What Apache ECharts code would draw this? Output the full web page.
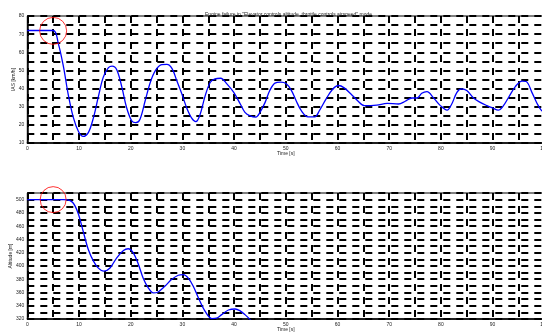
<!DOCTYPE html>
<html>
<head>
<meta charset="utf-8">
<script src="https://cdn.jsdelivr.net/npm/echarts@6/dist/echarts.min.js"></script>
<style>html,body{margin:0;padding:0;background:#fff;}#c{width:542px;height:333px;}</style>
</head>
<body>
<div id="c"></div>
<script>
var titleText = 'Engine failure in "Elevator controls altitude, throttle controls airspeed" mode';
var xName = 'Time [s]';
var iasName = 'IAS [km/h]';
var altName = 'Altitude [m]';

var iasTime = [0, 5, 6, 7, 7.9, 8.9, 9.9, 10.8, 11.8, 12.8, 13.7, 14.7, 15.7, 16.4, 17.3, 18.3, 19.2, 20.2, 21, 21.8, 22.8, 23.8, 24.8, 26, 27, 28, 28.9, 29.9, 30.8, 31.8, 32.6, 33.4, 34.4, 35.4, 36.3, 37.4, 38.6, 39.9, 41.2, 42.1, 43.1, 44.2, 45, 46, 46.9, 47.9, 49, 50.1, 51.1, 52, 53, 54.3, 55.6, 56.5, 57.8, 59.1, 60.2, 61.3, 62.6, 63.9, 65.2, 67.6, 69.6, 71.8, 73.1, 74.4, 75.4, 76.3, 77.3, 78.6, 79.9, 81.2, 82.1, 83.1, 84, 85, 86.3, 87.6, 88.9, 90, 91.1, 92.1, 93.1, 94.4, 95.7, 96.5, 97.6, 98.6, 99.4, 100];
var iasValue = [72, 72, 64.8, 51.9, 37, 24.1, 16.3, 13.6, 15.7, 24, 35, 46.3, 51.5, 52.4, 50.4, 40.7, 29.6, 22.2, 21.2, 23.1, 33.3, 43.5, 50, 53.2, 53.3, 51, 44.4, 37, 29.6, 23.7, 21.8, 25.5, 36, 43.5, 45.4, 45.7, 42.6, 38, 31.5, 26.9, 25, 24.3, 26.9, 32.4, 38.9, 43, 43.5, 42.6, 38.9, 33.3, 27.8, 24.4, 24.4, 27.8, 34.3, 39.8, 41.7, 40.4, 37, 33.3, 30.6, 30.9, 31.8, 31.5, 33, 34.8, 34.8, 37.4, 38.3, 34.8, 30.6, 28.1, 31.5, 37.9, 39.8, 38.9, 34.8, 32.4, 30.6, 29.3, 28.1, 30.6, 35.2, 41.1, 44.1, 43.9, 37.9, 31.8, 28.1, 27];

var altTime = [0, 7, 7.8, 8.6, 9.2, 9.9, 10.8, 11.8, 12.8, 13.7, 14.8, 16, 17.3, 18.6, 19.5, 20.5, 21.5, 22.4, 23.4, 24.4, 25.3, 26.6, 27.9, 29.2, 30.2, 31.1, 32.1, 33.1, 34.4, 35.7, 36.6, 37.6, 38.9, 40.2, 41.1, 42.1, 43.1, 44];
var altValue = [500, 500, 499.5, 497, 491, 478, 452.6, 424.8, 407.2, 397.1, 392.1, 397, 412.3, 423.3, 425.9, 419.8, 402.2, 382, 366.9, 359.3, 360.8, 369.4, 379.4, 386, 387, 382, 369.4, 351.7, 331.5, 320.6, 321.2, 326.6, 333.6, 335.1, 332.6, 326.6, 319, 310];

var markIas = [[5, 71.8]];
var markAlt = [[5, 500]];

var gridDash = {color: '#000', width: 2, type: [7, 6]};
var labelStyle = {fontSize: 5, color: '#222', fontFamily: 'Liberation Sans'};

function xAxisCfg(gi) {
  return {
    gridIndex: gi, type: 'value', min: 0, max: 100, interval: 5,
    name: xName, nameLocation: 'middle', nameGap: 8, nameMoveOverlap: false,
    nameTextStyle: {fontSize: 5, color: '#222', fontFamily: 'Liberation Sans'},
    axisLine: {show: true, onZero: false, lineStyle: {color: '#000', width: 1.5}},
    axisTick: {show: false},
    axisLabel: Object.assign({margin: 3, hideOverlap: false, formatter: function (v) { return v % 10 === 0 ? String(v) : ''; }}, labelStyle),
    splitLine: {show: true, lineStyle: gridDash}
  };
}

var chart = echarts.init(document.getElementById('c'), null, {renderer: 'canvas'});
chart.setOption({
  animation: false,
  backgroundColor: '#fff',
  title: {
    text: titleText, left: 200, top: 7,
    textStyle: {fontSize: 5, fontWeight: 'normal', color: '#222', fontFamily: 'Liberation Sans'}
  },
  grid: [
    {left: 27.3, top: 16, width: 517, height: 127, containLabel: false, outerBoundsMode: 'none', show: true, borderColor: '#000', borderWidth: 1, backgroundColor: 'transparent'},
    {left: 27.3, top: 193, width: 517, height: 126, containLabel: false, outerBoundsMode: 'none', show: true, borderColor: '#000', borderWidth: 1, backgroundColor: 'transparent'}
  ],
  xAxis: [xAxisCfg(0), xAxisCfg(1)],
  yAxis: [
    {
      gridIndex: 0, type: 'value', min: 10, max: 80, interval: 5,
      name: iasName, nameLocation: 'middle', nameGap: 11, nameRotate: 90, nameMoveOverlap: false,
      nameTextStyle: {fontSize: 5, color: '#222', fontFamily: 'Liberation Sans'},
      axisLine: {show: true, lineStyle: {color: '#000', width: 1.5}},
      axisTick: {show: false},
      axisLabel: Object.assign({margin: 3, formatter: function (v) { return v % 10 === 0 ? String(v) : ''; }}, labelStyle),
      splitLine: {show: true, lineStyle: gridDash}
    },
    {
      gridIndex: 1, type: 'value', min: 320, max: 510, interval: 10,
      name: altName, nameLocation: 'middle', nameGap: 14, nameRotate: 90, nameMoveOverlap: false,
      nameTextStyle: {fontSize: 5, color: '#222', fontFamily: 'Liberation Sans'},
      axisLine: {show: true, lineStyle: {color: '#000', width: 1.5}},
      axisTick: {show: false},
      axisLabel: Object.assign({margin: 3, formatter: function (v) { return v % 20 === 0 ? String(v) : ''; }}, labelStyle),
      splitLine: {show: true, lineStyle: gridDash}
    }
  ],
  series: [
    {
      type: 'line', xAxisIndex: 0, yAxisIndex: 0, clip: true,
      data: iasTime.map(function (t, i) { return [t, iasValue[i]]; }),
      showSymbol: false, smooth: 0.35,
      lineStyle: {color: '#0000ff', width: 1.3}, z: 5
    },
    {
      type: 'line', xAxisIndex: 1, yAxisIndex: 1, clip: true,
      data: altTime.map(function (t, i) { return [t, altValue[i]]; }),
      showSymbol: false, smooth: 0.35,
      lineStyle: {color: '#0000ff', width: 1.3}, z: 5
    },
    {
      type: 'scatter', xAxisIndex: 0, yAxisIndex: 0, clip: false,
      data: markIas, symbol: 'circle', symbolSize: 27,
      itemStyle: {color: 'rgba(0,0,0,0)', borderColor: '#ff0000', borderWidth: 1}, z: 10
    },
    {
      type: 'scatter', xAxisIndex: 1, yAxisIndex: 1, clip: false,
      data: markAlt, symbol: 'circle', symbolSize: 26,
      itemStyle: {color: 'rgba(0,0,0,0)', borderColor: '#ff0000', borderWidth: 1}, z: 10
    }
  ]
});
</script>
</body>
</html>
